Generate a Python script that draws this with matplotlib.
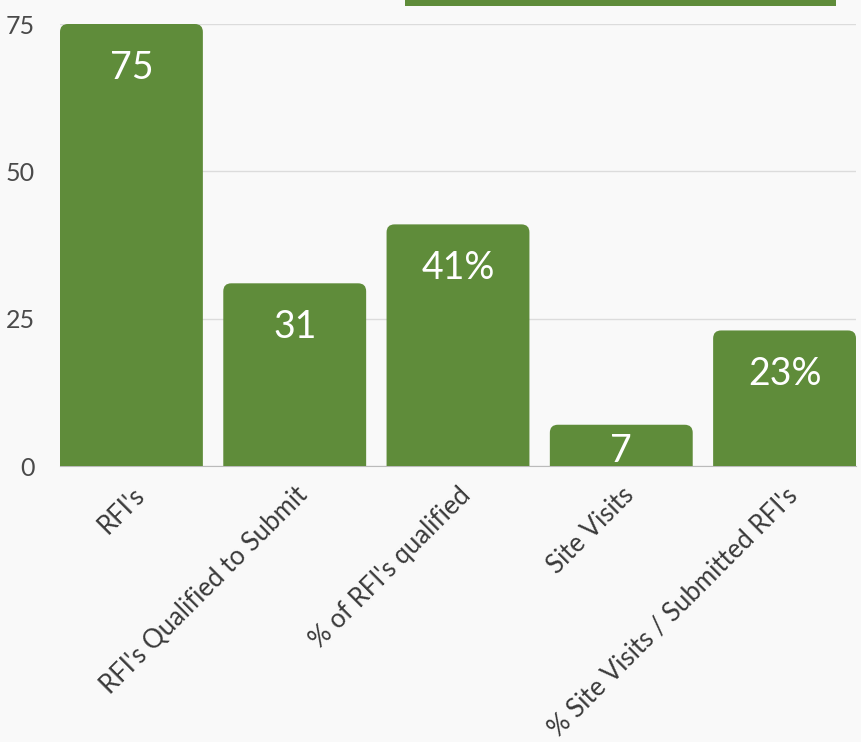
import matplotlib.pyplot as plt
from matplotlib.patches import FancyBboxPatch, Rectangle

categories = ["RFI's", "RFI's Qualified to Submit", "% of RFI's qualified",
              "Site Visits", "% Site Visits / Submitted RFI's"]
values = [75, 31, 41, 7, 23]
labels = ["75", "31", "41%", "7", "23%"]
yticks = [0, 25, 50, 75]

green = '#5f8c3a'
plt.rcParams['font.family'] = ['Lato', 'DejaVu Sans']

fig = plt.figure(figsize=(8.61, 7.42), dpi=100, facecolor='#f9f9f9')
ax = fig.add_axes([60/861, 276/742, 796/861, 442/742])
ax.set_facecolor('#f9f9f9')

width = 0.875
ax.set_xlim(-width/2, len(values) - 1 + width/2)
ax.set_ylim(0, 75)

# pixel scale, used to get round corners right
px_x = 796 / (ax.get_xlim()[1] - ax.get_xlim()[0])
px_y = 442 / 75.0
r = 8 / px_x

for i, v in enumerate(values):
    box = FancyBboxPatch((i - width/2 + r, -20), width - 2*r, v + 20 - r * px_x / px_y,
                         boxstyle='round,pad=%f,rounding_size=%f' % (r, r),
                         mutation_aspect=px_x / px_y,
                         fc=green, ec='none', zorder=3)
    ax.add_patch(box)
    if v < 10:
        ty = v / 2 - 1
    else:
        ty = v - 44 / px_y
    ax.text(i, ty, labels[i], ha='center', va='center', color='white',
            fontsize=27, zorder=4)

ax.set_yticks(yticks)
ax.set_yticklabels([str(t) for t in yticks], fontsize=18, color='#4a4a4a')
ax.grid(axis='y', color='#dcdcdc', lw=1, zorder=0)
ax.set_axisbelow(True)
ax.set_xticks(range(len(categories)))
ax.set_xticklabels(categories, rotation=45, ha='right', rotation_mode='anchor',
                   fontsize=18.5, color='#3a3a3a')
ax.tick_params(length=0)
ax.tick_params(axis='y', pad=18)
ax.tick_params(axis='x', pad=12)
for s in ['top', 'right', 'left']:
    ax.spines[s].set_visible(False)
ax.spines['bottom'].set_color('#bbbbbb')

# green bar from the cut-off header
fig.add_artist(Rectangle((405/861, 736/742), 431/861, 6/742,
                         transform=fig.transFigure, fc=green, ec='none'))

plt.savefig('out.png', dpi=100, facecolor=fig.get_facecolor())
